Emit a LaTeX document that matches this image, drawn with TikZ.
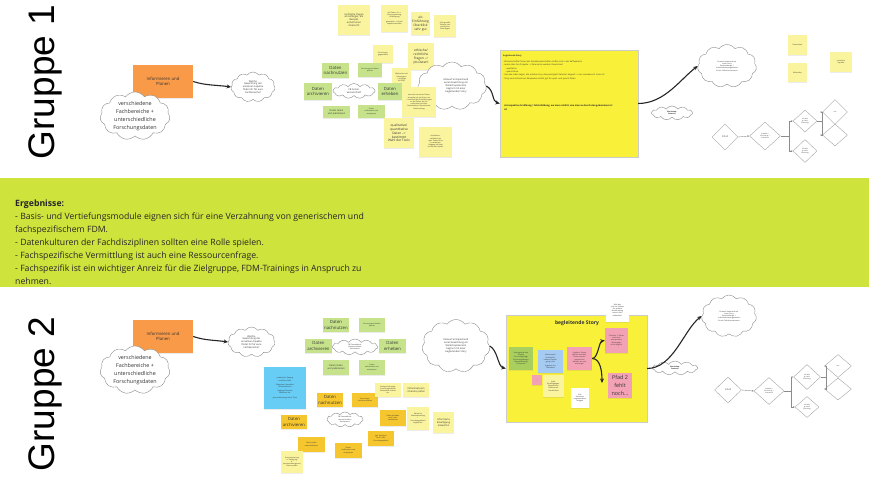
\documentclass[tikz,border=0pt]{standalone}
\usepackage{fontspec}
\setmainfont{Open Sans}
\newfontfamily\arialf{Liberation Sans}
\usetikzlibrary{shapes.geometric,shapes.symbols,arrows.meta,shadows}
\definecolor{lyel}{HTML}{FAF49E}
\definecolor{lgreen}{HTML}{C6E38C}
\definecolor{orng}{HTML}{F99A48}
\definecolor{dyel}{HTML}{F6C62E}
\definecolor{band}{HTML}{CEE33C}
\definecolor{story}{HTML}{F9F03A}
\definecolor{pinkn}{HTML}{F3A2B5}
\definecolor{bluen}{HTML}{A6CBF2}
\definecolor{cyann}{HTML}{67CDF5}
\definecolor{sgreen}{HTML}{A9CF5F}
\begin{document}
\begin{tikzpicture}[x=1pt,y=-1pt,
  note/.style={fill=#1, inner sep=0.5pt, align=center, text=black!80,
    drop shadow={shadow xshift=0pt,shadow yshift=-1pt,opacity=0.15}},
  wh/.style 2 args={minimum width=#1pt, minimum height=#2pt},
  fa/.style={font=\fontsize{1.8}{2.2}\selectfont},
  fb/.style={font=\fontsize{2.4}{2.9}\selectfont},
  fc/.style={font=\fontsize{3.2}{3.9}\selectfont},
  fd/.style={font=\fontsize{4.3}{5.2}\selectfont},
  fe/.style={font=\fontsize{5.4}{7.8}\selectfont},
  cld/.style={cloud, cloud puffs=11, cloud puff arc=110, cloud ignores aspect,
    draw=black!45, line width=0.4pt, fill=white, inner sep=0pt, align=center, text=black!80},
  dia/.style={diamond, draw=black!35, line width=0.4pt, fill=white, inner sep=0pt,
    align=center, text=black!70, fa},
  fl/.style={draw=black!45, line width=0.4pt, -{Stealth[length=2pt,width=1.6pt]}},
  conn/.style={draw=black!85, line width=1.1pt, -{Stealth[length=4.5pt,width=4pt]}},
  grp/.style={rotate=90, font=\arialf\fontsize{37}{37}\selectfont},
  bigbox/.style={fill=story, draw=black!20, line width=0.4pt}
]
\useasboundingbox (0,0) rectangle (869,478);
\fill[white] (0,0) rectangle (869,478);

% ================= Gruppe 1 =================
\node[grp] (lab1) at (45,82) {Gruppe 1};
\node[note=orng, wh={60}{33}, fd] (o1) at (163,81.5) {Informieren und\\Planen};
\node[cld, minimum width=70pt, minimum height=38pt, fe] (v1) at (135,116) {verschiedene\\Fachbereiche +\\unterschiedliche\\Forschungsdaten};
\node[cld, minimum width=44pt, minimum height=30pt, fb] (w1) at (253,87) {Welche\\Gewichtung der\\einzelnen Aspekte\\findet ihr für eure\\Fachbereiche?};
\draw[conn] (o1.east) .. controls +(12,4) and +(-14,-2) .. (w1.west);

% sticky notes cluster
\node[note=lyel, wh={32}{30}, fb] (n1) at (354,20) {rechtliche Fragen\\als Anfänger, am\\Beispiel\\erstellt einer\\Übersicht};
\node[note=lyel, wh={27}{27}, fa] (n2) at (394.5,18.5) {pb Daten: ok -->\\Anonymisierung,\\Einwilligung\\[2pt]generelles --> Einzel-\\aspekte vertiefen};
\node[note=lyel, wh={19}{23}, fc] (n3) at (420.5,23.5) {als\\Einführung\\Überblick\\sehr gut};
\node[note=lyel, wh={22}{22}, fa] (n4) at (445,26) {Fachspezifik\\Transfer von\\rechtlichen\\Grundlagen};
\node[note=lyel, wh={20}{18}, fa] (n5) at (383,54) {Forschungs-\\gegenstand};
\node[note=lyel, wh={26}{27}, fc] (n6) at (421,56.5) {ethische/\\rechtliche\\Fragen -->\\pb-Daten!};
\node[note=lgreen, wh={27}{15}, fd] (ga1) at (335.5,70.5) {Daten\\nachnutzen};
\node[note=lgreen, wh={24}{14}, fa] (ga2) at (370,70) {Forschungsvorhaben\\planen};
\node[note=lyel, wh={19}{19}, fa] (n7) at (401.5,77.5) {Methoden und\\Datentypen\\--> Kriterien\\für DMP};
\node[note=lgreen, wh={28}{17}, fd] (ga3) at (318,91.5) {Daten\\archivieren};
\node[cld, minimum width=42pt, minimum height=15pt, fb] (fb1) at (354,91) {FB Sozial-\\wissenschaft};
\node[note=lgreen, wh={24}{17}, fd] (ga4) at (390,91.5) {Daten\\erheben};
\node[cld, minimum width=69pt, minimum height=48pt, fb] (c1) at (452,86) {\hspace*{8pt}Entwurf entsprechend\\\hspace*{8pt}eurer Gewichtung ein\\\hspace*{8pt}Workshopszenario\\\hspace*{8pt}beginnt mit einer\\\hspace*{8pt}begleitenden Story};
\node[note=lyel, wh={34}{30}, fa] (n8) at (419,102) {wie sehe ich meine Daten,\\wie gehe ich mit ihnen um\\--> was sind die Anforderungen\\an die Daten, die ich\\nachnutzen möchte\\Datenbanken, Repositorien,\\Nachnutzung};
\node[note=lgreen, wh={27}{12}, fb] (ga5) at (336.5,112) {Daten teilen\\und publizieren};
\node[note=lgreen, wh={27}{13}, fa] (ga6) at (371.5,111.5) {Daten\\aufbereiten und\\analysieren};
\node[note=lyel, wh={30}{30}, fc] (n9) at (399,133) {qualitative/\\quantitative\\Daten -->\\bestimmt\\Wahl der Tools};
\node[note=lyel, wh={33}{30}, fa] (n10) at (435.5,142) {Verfahrens-\\verhältnis bei\\qual. Daten führt\\zu anderem\\Umgang mit dem\\rechtlichen Aspekt};

% story box 1
\node[bigbox, wh={138}{107}, inner sep=0] (s1) at (569,103.5) {};
\node[anchor=north west, inner sep=0, align=left, font=\fontsize{2.1}{3.3}\selectfont, text=black!80] (s1t) at (503,54.5)
 {\textbf{begleitende Story}\\[3pt]
 - Wissenschaftler*innen der Sozialwissenschaften treffen sich in der Kaffeeküche\\
 - reden über ihre Projekte --> Datenarten werden thematisiert\\
 \quad - qualitative\\
 \quad - quantitative\\
 - also alle reden sagen, das erhebe ich ja, das passt/geht Datenart doppelt --> aus: wie/warum? muss ich\\
 - Story wird anhand von Beispielen erzählt, gilt für quali- und quanti-Daten};
\node[anchor=north west, inner sep=0, align=left, font=\bfseries\fontsize{2.3}{3.6}\selectfont, text=black!85] (s1b) at (504,105)
 {retrospektive Erzählung / Fehlerbildung, wo man erzählt, wie man zu den Daten gekommen ist\\ist};
\draw[conn] (c1.east) .. controls +(8,4) and +(-8,-2) .. (s1.west);

\node[cld, minimum width=59pt, minimum height=43pt, fa] (c2) at (727,66) {Entwurf basierend auf\\eurer Story\\Entscheidungs- /\\Individualisierungspunkte\\für ein Selbstlernszenario};
\node[cld, minimum width=41pt, minimum height=14pt, fa] (ws1) at (672,113) {\textbf{Workshop-}\\\textbf{Szenario}};
\draw[conn] (s1.east) .. controls +(26,0) and +(-18,14) .. (c2.west);

\node[note=lyel, wh={19}{20}, fa] (r1) at (797.5,45) {Datenarten};
\node[note=lyel, wh={19}{19}, fa] (r2) at (797.5,72.5) {Methoden};
\node[note=lyel, wh={22}{20}, fa] (r3) at (841,62) {rechtliche\\Aspekte};

\node[dia, minimum width=26pt, minimum height=26pt, fb] (d1) at (725,137) {Inhalt};
\node[dia, minimum width=31pt, minimum height=28pt] (d2) at (765,136) {Inhalte x\\Wichtung /\\Interesse};
\node[dia, minimum width=24pt, minimum height=22pt] (d3) at (805,121) {Inhalte\\je nach\\Wertung};
\node[dia, minimum width=24pt, minimum height=23pt] (d4) at (805,151) {Inhalte\\je nach\\Wertung};
\node[dia, minimum width=25pt, minimum height=25pt] (d5) at (835,112) {xxx};
\node[dia, minimum width=25pt, minimum height=22pt] (d6) at (835,135) {};
\draw[fl] (d1.east) -- (d2.west);
\draw[fl] (d2.east) -- ++(8,0) coordinate (j1) |- (d3.west);
\draw[fl] (j1) |- (d4.west);
\draw[fl] (d3.east) -- ++(5,0) coordinate (j2) |- (d5.west);
\draw[fl] (j2) |- (d6.west);

% ================= Ergebnisse band =================
\fill[band] (0,178) rectangle (869,287);
\node[anchor=north west, inner sep=0, align=left, font=\fontsize{8.7}{13}\selectfont, text=black!85] (res) at (15,199.5)
 {\textbf{Ergebnisse:}\\
 - Basis- und Vertiefungsmodule eignen sich für eine Verzahnung von generischem und\\
 fachspezifischem FDM.\\
 - Datenkulturen der Fachdisziplinen sollten eine Rolle spielen.\\
 - Fachspezifische Vermittlung ist auch eine Ressourcenfrage.\\
 - Fachspezifik ist ein wichtiger Anreiz für die Zielgruppe, FDM-Trainings in Anspruch zu\\
 nehmen.};

% ================= Gruppe 2 =================
\node[grp] (lab2) at (45,394) {Gruppe 2};
\node[note=orng, wh={60}{33}, fd] (o2) at (163,336.5) {Informieren und\\Planen};
\node[cld, minimum width=70pt, minimum height=36pt, fe] (v2) at (135,370) {verschiedene\\Fachbereiche +\\unterschiedliche\\Forschungsdaten};
\node[cld, minimum width=47pt, minimum height=30pt, fb] (w2) at (251.5,342) {Welche\\Gewichtung der\\einzelnen Aspekte\\findet ihr für eure\\Fachbereiche?};
\draw[conn] (o2.east) .. controls +(12,4) and +(-14,-2) .. (w2.west);

\node[note=lgreen, wh={26}{14}, fd] (gb1) at (336,325) {Daten\\nachnutzen};
\node[note=lgreen, wh={26}{14}, fa] (gb2) at (372,325) {Forschungsvorhaben\\planen};
\node[note=lgreen, wh={27}{14}, fd] (gb3) at (318.5,346) {Daten\\archivieren};
\node[cld, minimum width=45pt, minimum height=16pt, fa] (fb2) at (355,347) {FB Gesundheits-\\wissenschaften,\\Geisteswiss.};
\node[note=lgreen, wh={27}{14}, fd] (gb4) at (392.5,346) {Daten\\erheben};
\node[note=lgreen, wh={26}{15}, fb] (gb5) at (336,367.5) {Daten teilen\\und publizieren};
\node[note=lgreen, wh={26}{15}, fa] (gb6) at (372,367.5) {Daten\\aufbereiten und\\analysieren};

\node[note=cyann, wh={42}{42}, fa] (bl) at (285,388) {praktischer Zugang\\rechtliche Seite\\[2pt]Wege zum Umstellen\\Infrastrukturen\\[2pt]Zugänge Tutorials\\Webinare etc.\\[2pt]personalisierung durch Tools};
\node[note=dyel, wh={26}{14}, fd] (y1) at (330,400) {Daten\\nachnutzen};
\node[note=dyel, wh={26}{14}, fa] (y2) at (365,400) {Forschungs-\\vorhaben planen};
\node[note=lyel, wh={26}{14}, fa] (y3) at (388,390) {Analyse bisheriger\\Forschungsstände\\Datensätze sichten\\etc.};
\node[note=lyel, wh={26}{14}, fb] (y4) at (416,390) {Infrastrukturen\\/ Dienste prüfen};
\node[note=dyel, wh={26}{14}, fd] (y5) at (294,422) {Daten\\archivieren};
\node[cld, minimum width=36pt, minimum height=15pt, fa] (fb3) at (345,419.5) {FB Gesundheits-\\wissenschaften\\Geisteswiss.};
\node[note=dyel, wh={26}{16}, fa] (y6) at (393,418) {Daten erheben\\und / oder\\nachnutzen};
\node[note=lyel, wh={22}{23}, fa] (y7) at (418,418.5) {Ablauf zu\\Datensammlung\\+\\Forschungsablauf\\abgleichen};
\node[note=lyel, wh={21}{21}, fb] (y8) at (443.5,422.5) {Informierte\\Einwilligung\\entwerfen};
\node[note=dyel, wh={27}{15}, fa] (y9) at (311.5,444.5) {Daten teilen\\und publizieren};
\node[note=dyel, wh={26}{15}, fa] (y10) at (381,438.5) {ggf. Analysen\\und / oder\\Forschungsablauf};
\node[note=dyel, wh={27}{15}, fa] (y11) at (348.5,450.5) {Daten\\aufbereiten und\\analysieren};
\node[note=lyel, wh={22}{22}, fa] (y12) at (292,462) {Anonymisierung\\u. Verfügung\\d.\\personenbezogenen\\Daten prüfen};

\node[cld, minimum width=68pt, minimum height=53pt, fb] (c3) at (456,346) {Entwurf entsprechend\\eurer Gewichtung ein\\Workshopszenario\\beginnt mit einer\\begleitenden Story};

% story box 2
\node[bigbox, wh={141}{107}, inner sep=0] (s2) at (576.5,368.5) {};
\node[font=\bfseries\fontsize{5}{6}\selectfont, inner sep=0, text=black!80] (s2t) at (577,323.5) {begleitende Story};
\node[note=sgreen, wh={24}{23}, fa] (k1) at (521,358.5) {Hintergrund zum\\Projekt:\\Forschungsfrage,\\Forschungsdesign,\\Datenerhebung\\Stichprobe};
\node[note=bluen, wh={25}{23}, fa] (k2) at (550.5,361.5) {Werbung für\\Studienteil-\\nahme, Einwilli-\\gung, Infos\\[1.5pt]Angaben zur\\Teilnahme};
\node[note=pinkn, wh={10}{10}, fa] (k3) at (537,380) {...};
\node[note=lyel, wh={21}{22}, fa] (k4) at (553.5,386) {Infos:\\Einwilligungen,\\Datenschutz,\\Ethikvotum,\\Löschfristen};
\node[note=pinkn, wh={25}{23}, fa] (p1) at (579.5,358.5) {Ergebnis: Daten\\werden erhoben,\\Daten müssen\\gespeichert\\werden, wo und\\wie lange?};
\node[note=pinkn, wh={23}{25}, fa] (p2) at (616.5,340.5) {Problem 1: Daten\\sind nicht\\anonymisiert,\\Weitergabe\\nicht möglich};
\node[note=pinkn, wh={24}{25}, fe] (p3) at (620,385.5) {Pfad 2\\fehlt\\noch...};
\node[note=white, wh={18}{20}, fa] (k5) at (580,398) {Evtl.\\Datenma-\\nagementplan\\anlegen};
\node[note=white, wh={23}{24}, fa] (k6) at (617.5,310) {Wie lässt\\sich der Nutzen\\für spätere\\Nachnutzung\\bereits früh\\bedenken?};
\coordinate (pa) at (602,383);
\draw[conn] (p1.east) .. controls +(6,0) and +(-6,1) .. (p2.west);
\draw[conn] (p1.east) .. controls +(8,0) and +(0,-12) .. (pa);
\draw[conn] (c3.east) .. controls +(8,4) and +(-8,-2) .. (s2.west);

\node[cld, minimum width=55pt, minimum height=42pt, fa] (c4) at (729,316) {Entwurf basierend auf\\eurer Story\\Entscheidungs- /\\Individualisierungspunkte\\für ein Selbstlernszenario};
\node[cld, minimum width=45pt, minimum height=14pt, fa] (ws2) at (675,368) {\textbf{Workshop-}\\\textbf{Szenario}};
\draw[conn] (s2.east) .. controls +(26,0) and +(-18,14) .. (c4.west);

\node[dia, minimum width=27pt, minimum height=26pt, fb] (e1) at (728,390) {Inhalt};
\node[dia, minimum width=30pt, minimum height=27pt] (e2) at (769,391) {Inhalte x\\Wichtung /\\Interesse};
\node[dia, minimum width=27pt, minimum height=25pt] (e3) at (807,377) {Inhalte\\je nach\\Wertung};
\node[dia, minimum width=24pt, minimum height=21pt] (e4) at (807,407) {Inhalte\\je nach\\Wertung};
\node[dia, minimum width=27pt, minimum height=23pt] (e5) at (838,366) {xxx};
\node[dia, minimum width=27pt, minimum height=22pt] (e6) at (838,389) {};
\draw[fl] (e1.east) -- (e2.west);
\draw[fl] (e2.east) -- ++(7,0) coordinate (j3) |- (e3.west);
\draw[fl] (j3) |- (e4.west);
\draw[fl] (e3.east) -- ++(5,0) coordinate (j4) |- (e5.west);
\draw[fl] (j4) |- (e6.west);
\end{tikzpicture}
\end{document}
